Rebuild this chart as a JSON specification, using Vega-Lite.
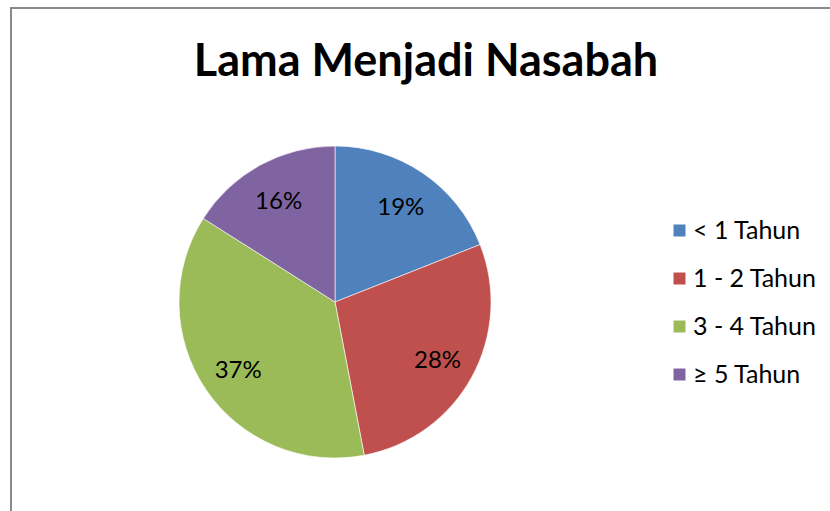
{
  "$schema": "https://vega.github.io/schema/vega-lite/v6.json",
  "autosize": "none",
  "padding": {"left": 11, "top": 8, "right": 0, "bottom": 0},
  "width": 830,
  "height": 511,
  "background": "white",
  "view": {"stroke": "#8a8a8a", "strokeWidth": 2, "fill": "white"},
  "title": {
    "text": "Lama Menjadi Nasabah",
    "font": "Lato",
    "fontSize": 45,
    "fontWeight": "bold",
    "color": "black",
    "anchor": "middle",
    "baseline": "alphabetic",
    "offset": 0,
    "dy": 113
  },
  "data": {
    "values": [
      {"kategori": "< 1 Tahun", "persen": 19, "label": "19%", "urut": 1},
      {"kategori": "1 - 2 Tahun", "persen": 28, "label": "28%", "urut": 2},
      {"kategori": "3 - 4 Tahun", "persen": 37, "label": "37%", "urut": 3},
      {"kategori": "≥ 5 Tahun", "persen": 16, "label": "16%", "urut": 4}
    ]
  },
  "encoding": {
    "theta": {"field": "persen", "type": "quantitative", "stack": true},
    "order": {"field": "urut", "type": "quantitative"},
    "color": {
      "field": "kategori",
      "type": "nominal",
      "sort": ["< 1 Tahun", "1 - 2 Tahun", "3 - 4 Tahun", "≥ 5 Tahun"],
      "scale": {
        "domain": ["< 1 Tahun", "1 - 2 Tahun", "3 - 4 Tahun", "≥ 5 Tahun"],
        "range": ["#4F81BD", "#C0504D", "#9BBB59", "#8064A2"]
      },
      "legend": {
        "title": null,
        "orient": "none",
        "legendX": 656,
        "legendY": 210,
        "symbolType": "square",
        "symbolSize": 144,
        "symbolStrokeWidth": 0,
        "labelFont": "Lato",
        "labelFontSize": 25,
        "labelColor": "black",
        "labelOffset": 1,
        "rowPadding": 22
      }
    }
  },
  "layer": [
    {
      "mark": {"type": "arc", "x": 324, "y": 294, "outerRadius": 156, "stroke": "white", "strokeWidth": 0.6}
    },
    {
      "mark": {"type": "text", "x": 324, "y": 294, "radius": 117, "dy": 3, "font": "Lato", "fontSize": 24, "fill": "black"},
      "encoding": {
        "text": {"field": "label", "type": "nominal"},
        "color": {"value": "black"}
      }
    }
  ]
}
